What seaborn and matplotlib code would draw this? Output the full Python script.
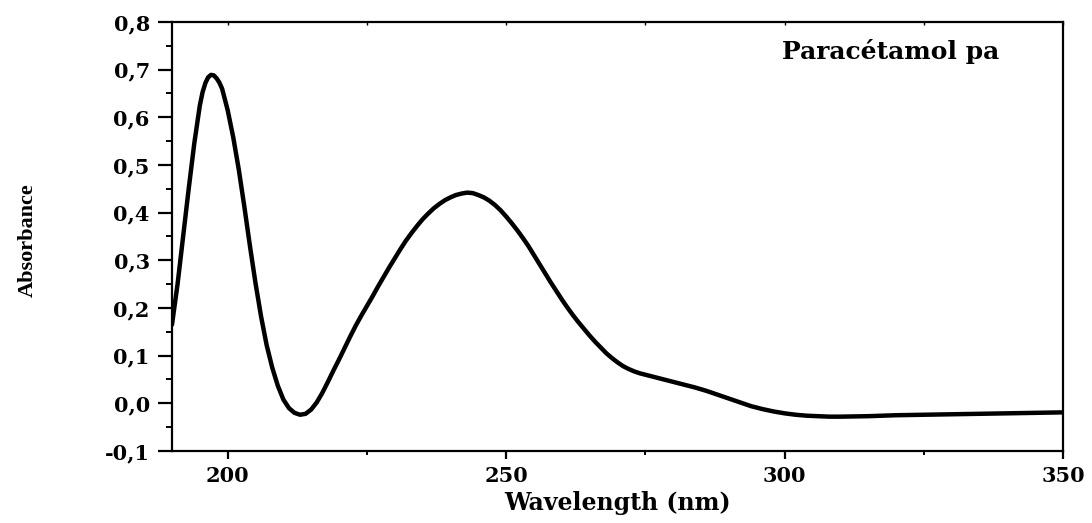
import numpy as np
import pandas as pd
import matplotlib
matplotlib.use("Agg")
import matplotlib.pyplot as plt
from matplotlib.ticker import MultipleLocator, FuncFormatter
import seaborn as sns

# UV absorption spectrum of paracetamol
wavelength = ([190, 191, 192, 193, 194, 195, 195.5, 196, 196.5, 197, 197.5, 198, 198.5, 199]
              + list(range(200, 281))
              + [282, 284, 286, 288, 290, 292, 294, 296, 298,
                 300, 302, 304, 306, 308, 310, 315, 320, 325,
                 330, 335, 340, 345, 350])
absorbance = [
    0.165, 0.250, 0.350, 0.450, 0.545, 0.625, 0.653, 0.672, 0.684, 0.689,  # 190-197
    0.688, 0.682, 0.673, 0.660,                                             # 197.5-199
    0.615, 0.558, 0.490, 0.412, 0.330, 0.252, 0.182, 0.122, 0.075, 0.037,   # 200-209
    0.008, -0.010, -0.020, -0.024, -0.022, -0.013, 0.002, 0.022, 0.045, 0.069,  # 210-219
    0.092, 0.116, 0.140, 0.163, 0.184, 0.204, 0.224, 0.245, 0.265, 0.285,   # 220-229
    0.304, 0.323, 0.341, 0.357, 0.372, 0.386, 0.398, 0.409, 0.418, 0.426,   # 230-239
    0.432, 0.437, 0.440, 0.442, 0.441, 0.437, 0.432, 0.425, 0.416, 0.405,   # 240-249
    0.392, 0.378, 0.363, 0.347, 0.330, 0.311, 0.292, 0.273, 0.254, 0.236,   # 250-259
    0.218, 0.201, 0.185, 0.170, 0.156, 0.142, 0.129, 0.117, 0.105, 0.095,   # 260-269
    0.086, 0.078, 0.072, 0.067, 0.063, 0.060, 0.057, 0.054, 0.051, 0.048,   # 270-279
    0.045,                                                                  # 280
    0.039, 0.033, 0.026, 0.018, 0.010, 0.002, -0.006, -0.012, -0.017,       # 282-298
    -0.021, -0.024, -0.026, -0.027, -0.028, -0.028, -0.027, -0.025, -0.024, # 300-325
    -0.023, -0.022, -0.021, -0.020, -0.019,                                 # 330-350
]

x_ticks = [200, 250, 300, 350]
y_ticks = [-0.1, 0.0, 0.1, 0.2, 0.3, 0.4, 0.5, 0.6, 0.7, 0.8]

df = pd.DataFrame({"Wavelength (nm)": wavelength, "Absorbance": absorbance})

sns.set_style("ticks")
plt.rcParams["font.family"] = ["DejaVu Serif"]
plt.rcParams["text.color"] = "black"
plt.rcParams["axes.labelcolor"] = "black"
plt.rcParams["xtick.color"] = "black"
plt.rcParams["ytick.color"] = "black"

fig = plt.figure(figsize=(10.92, 5.23), dpi=100)
ax = fig.add_axes([0.1575, 0.1377, 0.8159, 0.8203])

sns.lineplot(data=df, x="Wavelength (nm)", y="Absorbance", ax=ax,
             color="black", linewidth=3.2, sort=True)

ax.set_xlim(190, 350)
ax.set_ylim(-0.1, 0.8)
ax.set_xticks(x_ticks)
ax.set_yticks(y_ticks)
ax.xaxis.set_minor_locator(MultipleLocator(25))
ax.yaxis.set_minor_locator(MultipleLocator(0.05))
ax.yaxis.set_major_formatter(FuncFormatter(lambda v, p: f"{v:.1f}".replace(".", ",")))

for side in ["left", "bottom", "top", "right"]:
    ax.spines[side].set_visible(True)
    ax.spines[side].set_linewidth(1.6)
    ax.spines[side].set_color("black")

ax.tick_params(axis="y", which="major", direction="out", length=10, width=1.6,
               pad=6, labelsize=15, colors="black")
ax.tick_params(axis="y", which="minor", direction="out", length=4.5, width=1.4)
ax.tick_params(axis="x", which="major", direction="out", length=5.5, width=1.6,
               pad=5, labelsize=15, colors="black")
ax.tick_params(axis="x", which="minor", direction="out", length=3, width=1.4)
for lab in ax.get_xticklabels() + ax.get_yticklabels():
    lab.set_fontweight("bold")
    lab.set_color("black")

# faint inward ticks along the top edge
top = ax.secondary_xaxis("top")
top.set_xticks([200, 225, 250, 275, 300, 325, 350])
top.tick_params(direction="in", length=2.5, width=1.0, labeltop=False)
top.spines["top"].set_visible(False)

ax.set_xlabel("Wavelength (nm)", fontsize=17, fontweight="bold", labelpad=4,
              color="black")
ax.set_ylabel("")
fig.text(0.025, 0.54, "Absorbance", rotation=90, ha="center", va="center",
         fontsize=16, fontweight="bold", family=["Liberation Serif"], color="black")

ax.text(0.807, 0.93, "Paracétamol pa", transform=ax.transAxes, ha="center",
        va="center", fontsize=18, fontweight="bold", color="black")

fig.savefig("out.png", dpi=100)
